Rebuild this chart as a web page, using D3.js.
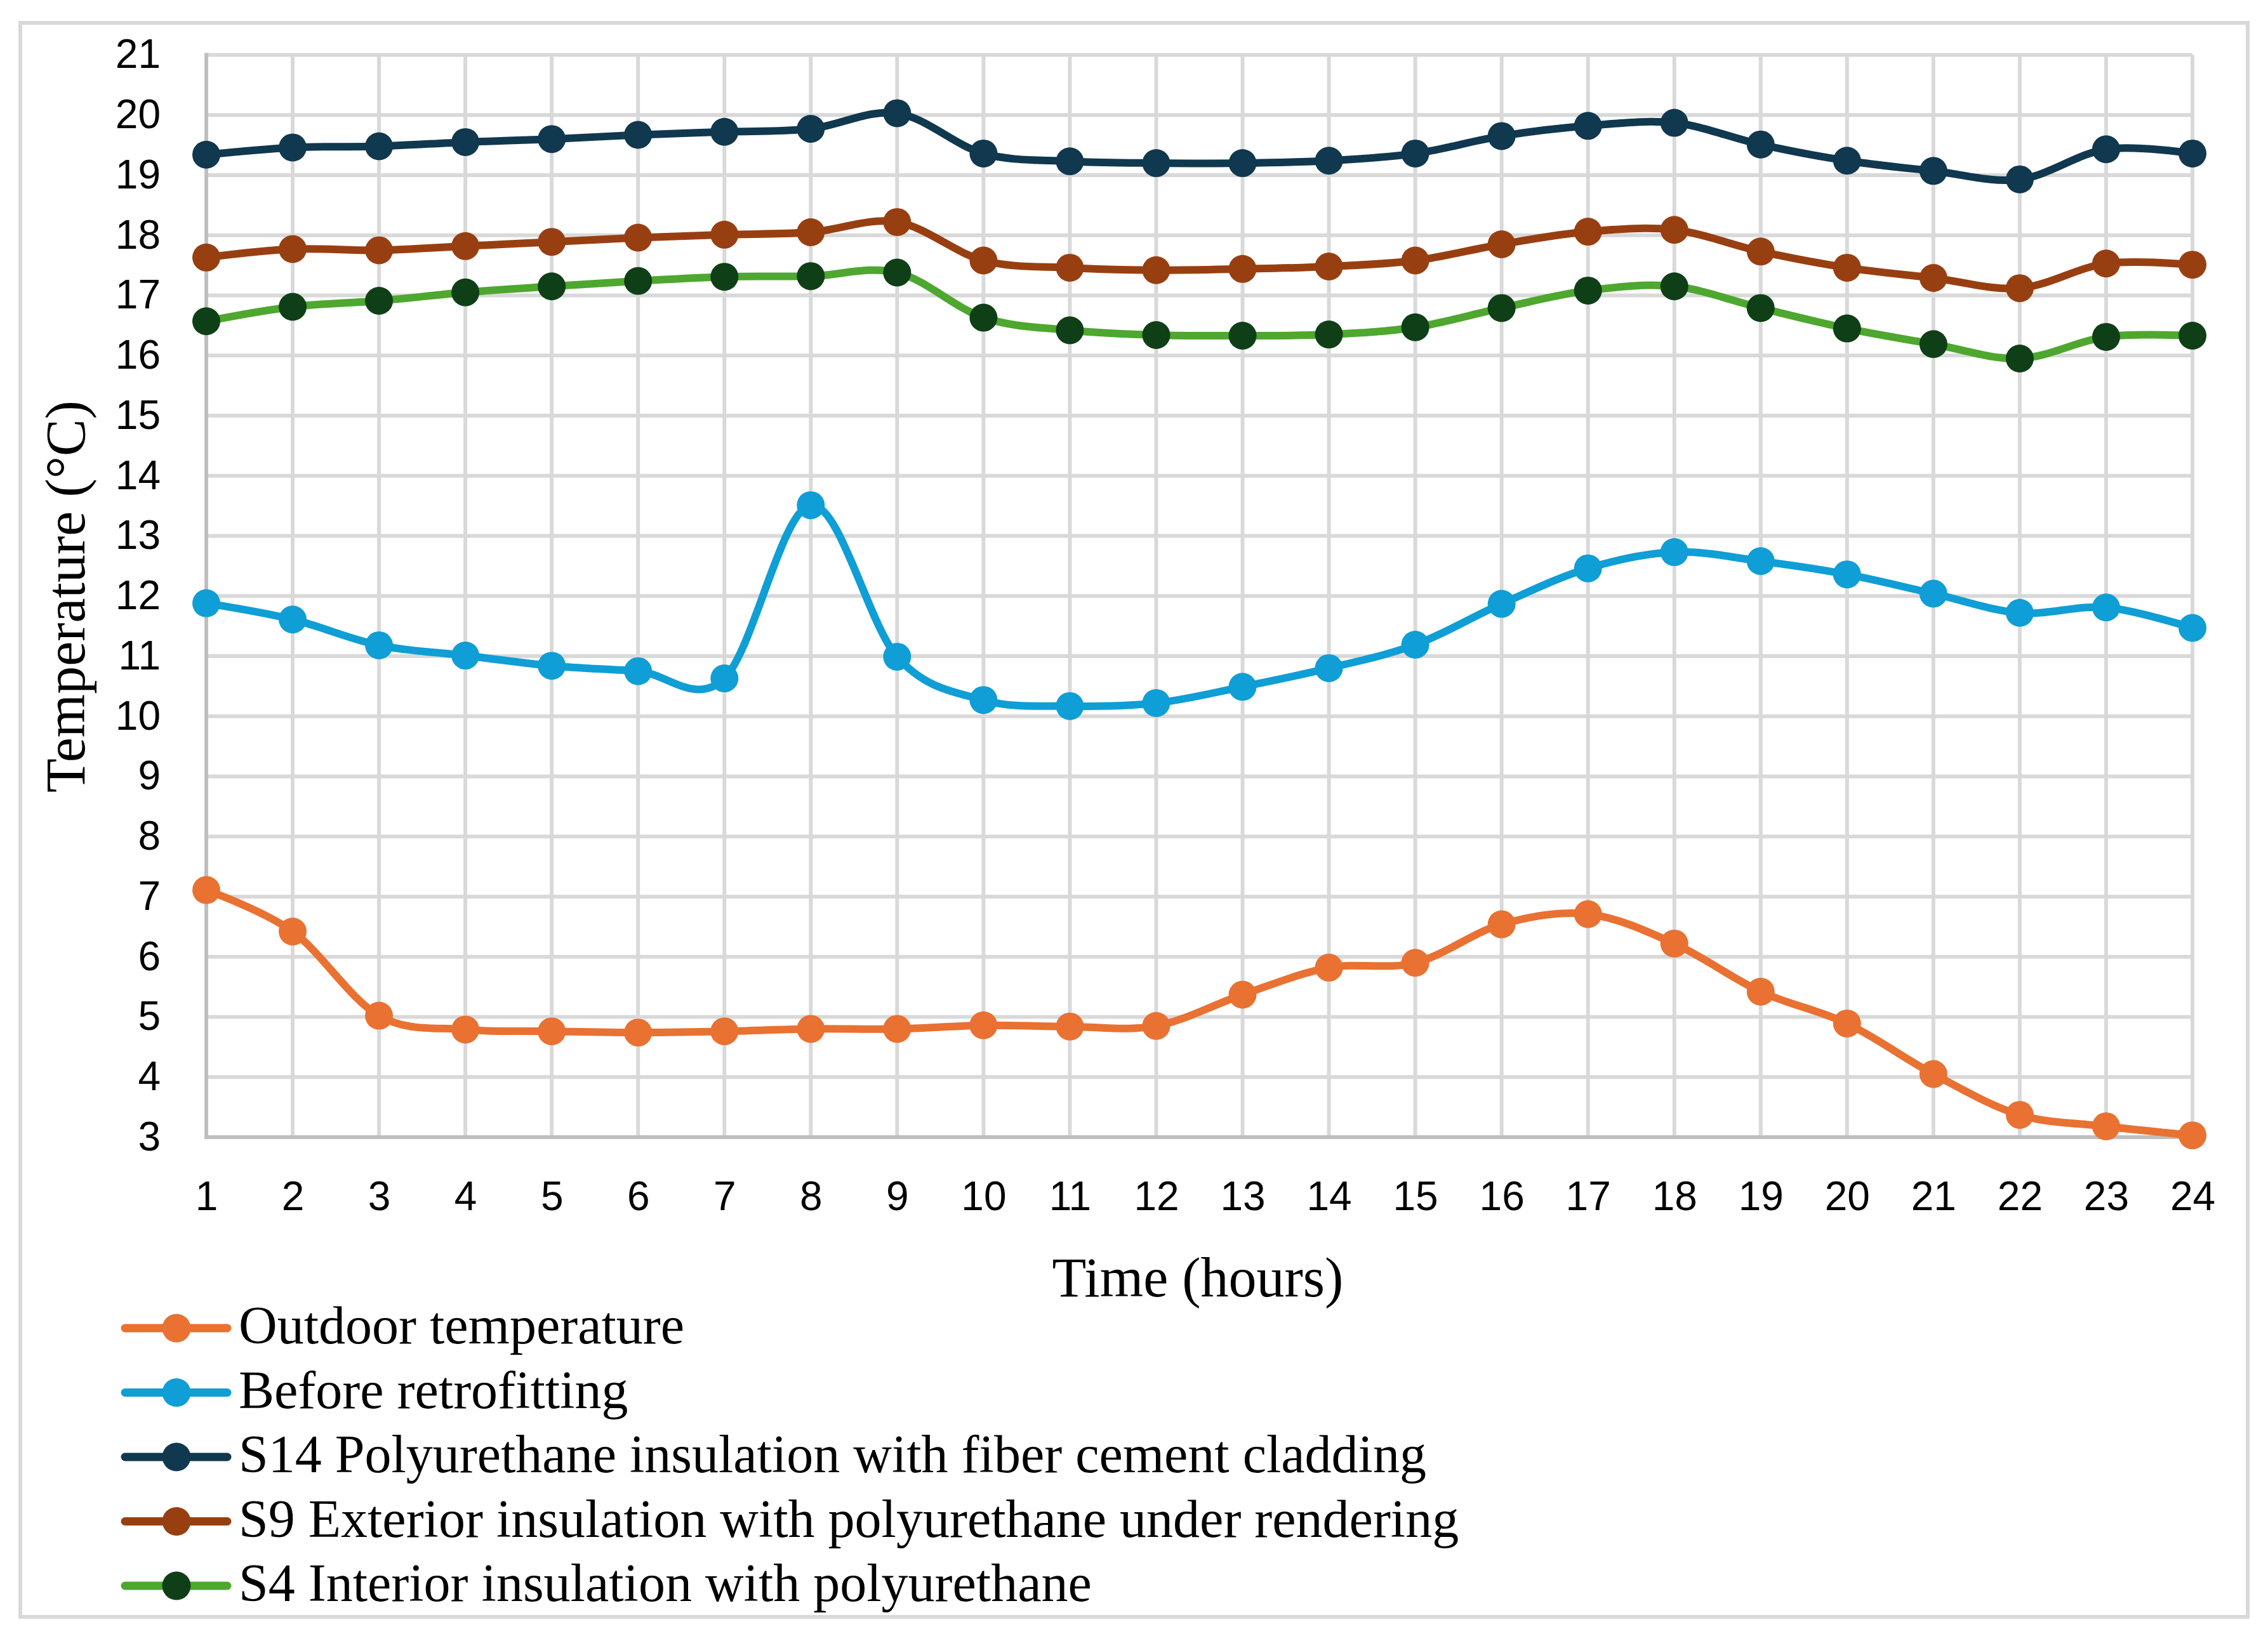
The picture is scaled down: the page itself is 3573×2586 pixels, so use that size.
<!DOCTYPE html>
<html>
<head>
<meta charset="utf-8">
<script src="https://cdn.jsdelivr.net/npm/d3@7"></script>
<style>
  html, body { margin: 0; padding: 0; background: #ffffff; }
  svg { display: block; }
</style>
</head>
<body>
<svg id="chart" width="3573" height="2586"></svg>
<script>
// ---- Data ----
const hours = [1,2,3,4,5,6,7,8,9,10,11,12,13,14,15,16,17,18,19,20,21,22,23,24];
const yTicks = [3,4,5,6,7,8,9,10,11,12,13,14,15,16,17,18,19,20,21];

const seriesNames = [
  "Outdoor temperature",
  "Before retrofitting",
  "S14 Polyurethane insulation with fiber cement cladding",
  "S9 Exterior insulation with polyurethane under rendering",
  "S4 Interior insulation with polyurethane"
];

const outdoor = [7.11,6.42,5.02,4.79,4.76,4.74,4.76,4.80,4.80,4.86,4.84,4.85,5.37,5.82,5.90,6.54,6.71,6.22,5.42,4.89,4.05,3.37,3.18,3.03];
const before  = [11.88,11.61,11.18,11.01,10.84,10.75,10.63,13.51,10.99,10.27,10.17,10.22,10.49,10.80,11.19,11.87,12.46,12.73,12.58,12.36,12.04,11.72,11.81,11.47];
const s14     = [19.34,19.46,19.48,19.55,19.60,19.67,19.72,19.77,20.03,19.36,19.23,19.20,19.20,19.24,19.36,19.65,19.82,19.87,19.51,19.24,19.07,18.93,19.43,19.36];
const s9      = [17.63,17.77,17.75,17.82,17.89,17.96,18.01,18.05,18.22,17.58,17.46,17.42,17.44,17.48,17.58,17.85,18.06,18.09,17.73,17.46,17.29,17.12,17.53,17.51];
const s4      = [16.57,16.81,16.91,17.05,17.15,17.24,17.31,17.32,17.38,16.63,16.42,16.34,16.33,16.35,16.47,16.79,17.08,17.15,16.79,16.45,16.19,15.95,16.31,16.33];

const seriesValues = [outdoor, before, s14, s9, s4];
const lineColors   = ["#e97132", "#0f9ed5", "#10384f", "#983f12", "#4ea72e"];
const markerColors = ["#e97132", "#0f9ed5", "#10384f", "#983f12", "#0f3f17"];

// ---- Layout ----
const svg = d3.select("#chart");
const plot = { left: 325, right: 3454, top: 86.5, bottom: 1792 };

const x = d3.scaleLinear().domain([1, 24]).range([plot.left, plot.right]);
const y = d3.scaleLinear().domain([3, 21]).range([plot.bottom, plot.top]);

// outer border
svg.append("rect")
  .attr("x", 32).attr("y", 36)
  .attr("width", 3509).attr("height", 2512)
  .attr("fill", "none").attr("stroke", "#d9d9d9").attr("stroke-width", 6);

// gridlines
const grid = svg.append("g");
grid.selectAll("line.h").data(yTicks).enter().append("line")
  .attr("x1", plot.left).attr("x2", plot.right)
  .attr("y1", d => y(d)).attr("y2", d => y(d))
  .attr("stroke", "#d9d9d9").attr("stroke-width", 6);
grid.selectAll("line.v").data(hours).enter().append("line")
  .attr("x1", d => x(d)).attr("x2", d => x(d))
  .attr("y1", plot.top).attr("y2", plot.bottom)
  .attr("stroke", "#d9d9d9").attr("stroke-width", 6);

// axis lines
svg.append("line")
  .attr("x1", plot.left).attr("x2", plot.left)
  .attr("y1", plot.top - 3).attr("y2", plot.bottom + 3)
  .attr("stroke", "#bfbfbf").attr("stroke-width", 6);
svg.append("line")
  .attr("x1", plot.left - 3).attr("x2", plot.right + 3)
  .attr("y1", plot.bottom).attr("y2", plot.bottom)
  .attr("stroke", "#bfbfbf").attr("stroke-width", 6);

// y axis (labels only)
const yAxis = d3.axisLeft(y).tickValues(yTicks).tickSize(0).tickPadding(72).tickFormat(d3.format("d"));
const yg = svg.append("g").attr("transform", `translate(${plot.left},0)`).call(yAxis);
yg.select(".domain").remove();
yg.selectAll("text")
  .attr("font-family", "'Liberation Sans', Arial, sans-serif")
  .attr("font-size", 64).attr("fill", "#000");

// x axis (labels only)
const xAxis = d3.axisBottom(x).tickValues(hours).tickSize(0).tickPadding(70).tickFormat(d3.format("d"));
const xg = svg.append("g").attr("transform", `translate(0,${plot.bottom})`).call(xAxis);
xg.select(".domain").remove();
xg.selectAll("text")
  .attr("font-family", "'Liberation Sans', Arial, sans-serif")
  .attr("font-size", 64).attr("fill", "#000");

// axis titles
svg.append("text")
  .attr("x", 1887).attr("y", 2043)
  .attr("text-anchor", "middle")
  .attr("font-family", "'Liberation Serif', serif")
  .attr("font-size", 88).attr("fill", "#000")
  .text("Time (hours)");

svg.append("text")
  .attr("transform", "translate(133,940) rotate(-90)")
  .attr("text-anchor", "middle")
  .attr("font-family", "'Liberation Serif', serif")
  .attr("font-size", 88).attr("fill", "#000")
  .text("Temperature (°C)");

// series
const line = d3.line()
  .x((d, i) => x(hours[i]))
  .y(d => y(d))
  .curve(d3.curveCardinal.tension(0));

seriesValues.forEach((vals, si) => {
  const g = svg.append("g");
  g.append("path")
    .datum(vals)
    .attr("d", line)
    .attr("fill", "none")
    .attr("stroke", lineColors[si])
    .attr("stroke-width", 12)
    .attr("stroke-linejoin", "round")
    .attr("stroke-linecap", "round");
  g.selectAll("circle").data(vals).enter().append("circle")
    .attr("cx", (d, i) => x(hours[i]))
    .attr("cy", d => y(d))
    .attr("r", 22)
    .attr("fill", markerColors[si]);
});

// legend
const legend = svg.append("g");
seriesNames.forEach((name, i) => {
  const cy = 2093 + i * 101.5;
  legend.append("line")
    .attr("x1", 197).attr("x2", 358)
    .attr("y1", cy).attr("y2", cy)
    .attr("stroke", lineColors[i]).attr("stroke-width", 13)
    .attr("stroke-linecap", "round");
  legend.append("circle")
    .attr("cx", 278).attr("cy", cy).attr("r", 22.5)
    .attr("fill", markerColors[i]);
  legend.append("text")
    .attr("x", 376).attr("y", cy + 24)
    .attr("font-family", "'Liberation Serif', serif")
    .attr("font-size", 84).attr("fill", "#000")
    .text(name);
});
</script>
</body>
</html>
